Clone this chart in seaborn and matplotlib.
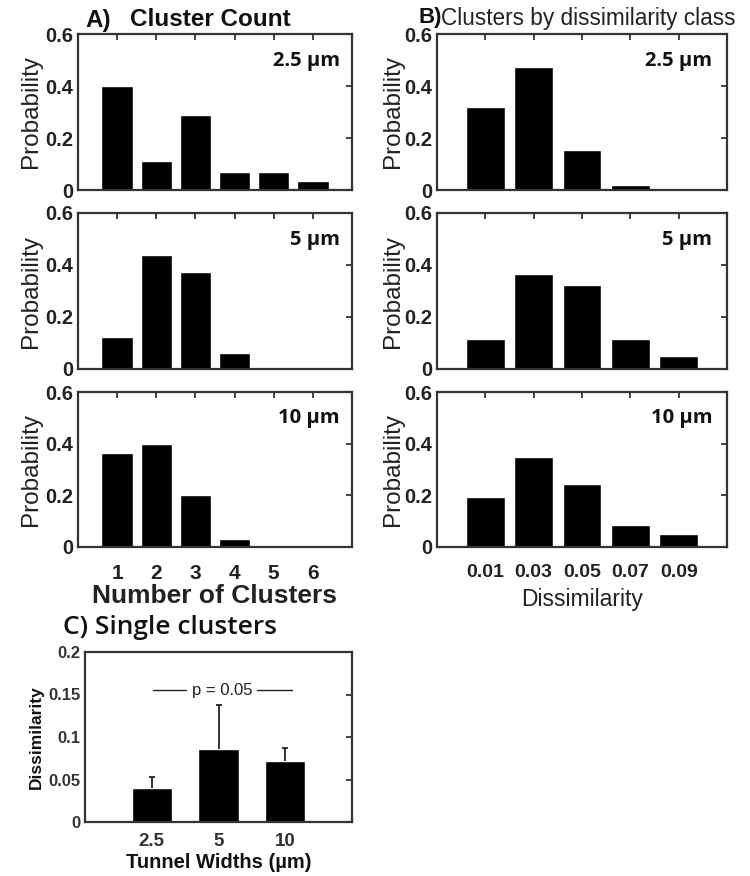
import matplotlib
matplotlib.use("Agg")
import matplotlib.pyplot as plt
import seaborn as sns
import pandas as pd

# panel A: probability of number of clusters per tunnel width
cluster_counts = ["1", "2", "3", "4", "5", "6"]
count_prob_25 = [0.40, 0.11, 0.29, 0.07, 0.07, 0.035]
count_prob_5 = [0.125, 0.44, 0.375, 0.06, 0.0, 0.0]
count_prob_10 = [0.365, 0.40, 0.20, 0.032, 0.0, 0.0]

# panel B: probability by dissimilarity class
dissim_classes = ["0.01", "0.03", "0.05", "0.07", "0.09"]
dissim_prob_25 = [0.32, 0.473, 0.152, 0.018, 0.0]
dissim_prob_5 = [0.117, 0.365, 0.325, 0.117, 0.051]
dissim_prob_10 = [0.192, 0.349, 0.244, 0.086, 0.05]

width_labels = ["2.5 µm", "5 µm", "10 µm"]

# panel C: single clusters
tunnel_widths = ["2.5", "5", "10"]
single_mean = [0.0395, 0.0855, 0.072]
single_err = [0.014, 0.052, 0.0147]

sns.set_style("white")
plt.rcParams["font.family"] = ["Liberation Sans", "DejaVu Sans"]
plt.rcParams["xtick.direction"] = "in"
plt.rcParams["ytick.direction"] = "in"

W, H = 750, 876
fig = plt.figure(figsize=(7.5, 8.76), dpi=100)


def px_axes(x0, y0, x1, y1):
    return fig.add_axes([x0 / W, 1 - y1 / H, (x1 - x0) / W, (y1 - y0) / H])


def style_frame(ax):
    for s in ax.spines.values():
        s.set_visible(True)
        s.set_linewidth(1.6)
        s.set_color("#333333")
    ax.tick_params(axis="both", which="major", length=4, width=1.3,
                   color="#333333", top=True, right=True)


rows = [(34, 190), (213, 369), (392, 547)]
a_vals = [count_prob_25, count_prob_5, count_prob_10]
b_vals = [dissim_prob_25, dissim_prob_5, dissim_prob_10]

for i, (y0, y1) in enumerate(rows):
    # panel A
    ax = px_axes(78, y0, 352, y1)
    df = pd.DataFrame({"k": cluster_counts, "p": a_vals[i]})
    sns.barplot(data=df, x="k", y="p", color="black", saturation=1,
                width=0.8, errorbar=None, ax=ax)
    ax.set_xlim(-1, len(cluster_counts))
    ax.set_ylim(0, 0.6)
    ax.set_yticks([0, 0.2, 0.4, 0.6])
    ax.set_yticklabels(["0", "0.2", "0.4", "0.6"], fontsize=14.5,
                       fontweight="bold", color="#222222")
    ax.set_ylabel("Probability", fontsize=17.5, color="#222222", labelpad=2)
    style_frame(ax)
    ax.set_xticks(range(len(cluster_counts)))
    if i == 2:
        ax.set_xticklabels(cluster_counts, fontsize=15, fontweight="bold",
                           color="#222222")
        ax.tick_params(axis="x", pad=12)
        ax.set_xlabel("Number of Clusters", fontsize=19, fontweight="bold",
                      color="#222222", labelpad=1)
    else:
        ax.set_xticklabels([])
        ax.set_xlabel("")
    ax.text(0.955, 0.83, width_labels[i], transform=ax.transAxes,
            ha="right", va="center", fontsize=14.5, fontweight="bold",
            family="Open Sans", color="#111111")

    # panel B
    ax = px_axes(437, y0, 727, y1)
    df = pd.DataFrame({"d": dissim_classes, "p": b_vals[i]})
    sns.barplot(data=df, x="d", y="p", color="black", saturation=1,
                width=0.8, errorbar=None, ax=ax)
    ax.set_xlim(-1, len(dissim_classes))
    ax.set_ylim(0, 0.6)
    ax.set_yticks([0, 0.2, 0.4, 0.6])
    ax.set_yticklabels(["0", "0.2", "0.4", "0.6"], fontsize=14.5,
                       fontweight="bold", color="#222222")
    ax.set_ylabel("Probability", fontsize=17.5, color="#222222", labelpad=0)
    style_frame(ax)
    ax.set_xticks(range(len(dissim_classes)))
    if i == 2:
        ax.set_xticklabels(dissim_classes, fontsize=14, fontweight="bold",
                           color="#222222")
        ax.tick_params(axis="x", pad=12)
        ax.set_xlabel("Dissimilarity", fontsize=16.5, color="#222222",
                      labelpad=5)
    else:
        ax.set_xticklabels([])
        ax.set_xlabel("")
    ax.text(0.95, 0.83, width_labels[i], transform=ax.transAxes,
            ha="right", va="center", fontsize=14.5, fontweight="bold",
            family="Open Sans", color="#111111")

fig.text(85 / W, 1 - 20 / H, "A)", fontsize=17.5,
         fontweight="bold", ha="left", va="center", color="#111111")
fig.text(130 / W, 1 - 20 / H, "Cluster Count", fontsize=17.5,
         fontweight="bold", ha="left", va="center", color="#111111")
fig.text(418 / W, 1 - 18 / H, "B)", fontsize=16, fontweight="bold",
         ha="left", va="center", color="#111111")
fig.text(441 / W, 1 - 18 / H, "Clusters by dissimilarity class", fontsize=16.3,
         ha="left", va="center", color="#222222")

# panel C
ax = px_axes(85, 652, 352, 822)
df = pd.DataFrame({"w": tunnel_widths, "m": single_mean})
sns.barplot(data=df, x="w", y="m", color="black", saturation=1,
            width=0.6, errorbar=None, ax=ax)
eb = ax.errorbar(range(len(tunnel_widths)), single_mean,
                 yerr=[[0] * len(single_err), single_err], fmt="none",
                 ecolor="#111111", elinewidth=1.2, capsize=2.5, capthick=1.2)
eb[1][0].set_visible(False)
ax.set_xlim(-1, len(tunnel_widths))
ax.set_ylim(0, 0.2)
ax.set_yticks([0, 0.05, 0.1, 0.15, 0.2])
ax.set_yticklabels(["0", "0.05", "0.1", "0.15", "0.2"], fontsize=12,
                   fontweight="bold", color="#333333")
ax.set_xticks(range(len(tunnel_widths)))
ax.set_xticklabels(tunnel_widths, fontsize=13.5, fontweight="bold",
                   color="#333333")
ax.tick_params(axis="x", pad=8)
ax.set_xlabel("Tunnel Widths (µm)", fontsize=14.5, fontweight="bold",
              color="#111111", labelpad=2)
ax.set_ylabel("Dissimilarity", fontsize=12.5, fontweight="bold",
              color="#111111", labelpad=3)
style_frame(ax)
ax.tick_params(axis="x", top=False)

# significance annotation
ax.plot([0.02, 0.52], [0.155, 0.155], color="#222222", lw=1)
ax.plot([1.58, 2.1], [0.155, 0.155], color="#222222", lw=1)
ax.text(1.05, 0.155, "p = 0.05", ha="center", va="center", fontsize=12,
        color="#222222")

fig.text(63 / W, 1 - 628 / H, "C) Single clusters", fontsize=19,
         fontweight="semibold", family="Open Sans", ha="left", va="center",
         color="#111111")

fig.savefig("out.png", dpi=100)
